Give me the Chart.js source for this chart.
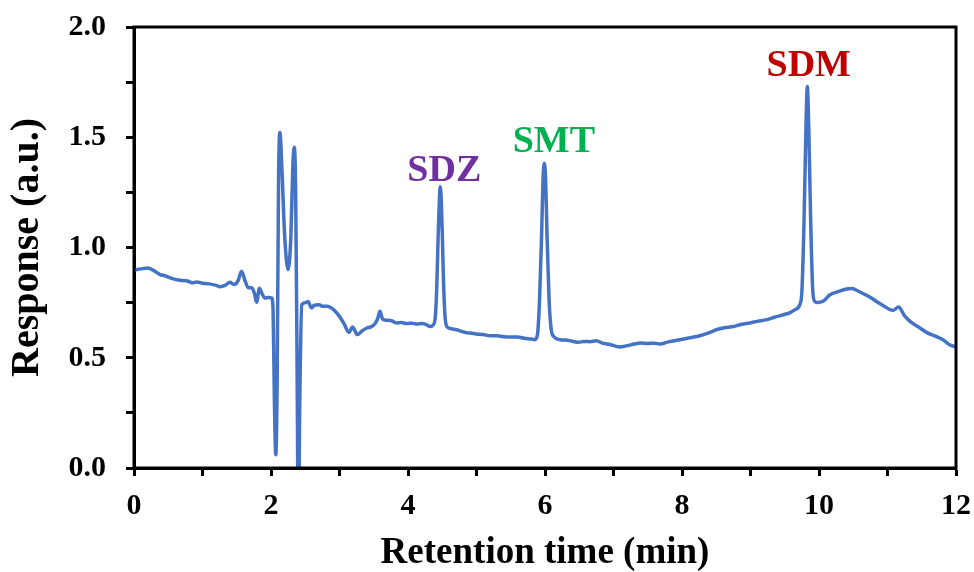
<!DOCTYPE html>
<html>
  <head>
    <title>Chromatogram</title>
    <script src="https://cdn.jsdelivr.net/npm/chart.js"></script>
    <style>
      body {
        margin: 0;
        background: #fff;
      }
      .wrap {
        width: 974px;
        height: 572px;
        position: relative;
      }
    </style>
  </head>
  <body>
    <div class="wrap"><canvas id="chrom"></canvas></div>

    <script>
      // retention time (min) and detector response (a.u.)
      const times = [
        0.00, 0.10, 0.20, 0.30, 0.38, 0.45, 0.55, 0.67, 0.78, 0.85, 0.92, 1.00, 1.10, 1.20, 1.26, 1.33,
        1.40, 1.46, 1.52, 1.57, 1.62, 1.67, 1.72, 1.76, 1.79, 1.83, 1.87, 1.91, 1.96, 2.01, 2.03, 2.05,
        2.07, 2.09, 2.11, 2.13, 2.16, 2.20, 2.25, 2.29, 2.32, 2.34, 2.36, 2.38, 2.40, 2.42, 2.45, 2.50,
        2.54, 2.59, 2.63, 2.70, 2.76, 2.82, 2.88, 2.96, 3.06, 3.14, 3.19, 3.26, 3.33, 3.40, 3.46, 3.52,
        3.56, 3.59, 3.63, 3.69, 3.76, 3.83, 3.90, 3.98, 4.06, 4.13, 4.20, 4.27, 4.32, 4.37, 4.40, 4.42,
        4.44, 4.46, 4.47, 4.48, 4.50, 4.52, 4.54, 4.57, 4.63, 4.71, 4.78, 4.85, 4.91, 5.00, 5.10, 5.20,
        5.30, 5.40, 5.50, 5.60, 5.70, 5.80, 5.85, 5.89, 5.92, 5.95, 5.97, 5.99, 6.01, 6.03, 6.06, 6.09,
        6.13, 6.22, 6.30, 6.40, 6.49, 6.57, 6.66, 6.75, 6.85, 6.95, 7.09, 7.20, 7.30, 7.39, 7.50, 7.60,
        7.68, 7.80, 7.97, 8.10, 8.26, 8.40, 8.50, 8.62, 8.75, 8.87, 8.99, 9.10, 9.24, 9.36, 9.48, 9.58,
        9.65, 9.72, 9.75, 9.78, 9.81, 9.83, 9.85, 9.88, 9.91, 9.94, 9.97, 10.06, 10.16, 10.28, 10.40, 10.48,
        10.55, 10.65, 10.74, 10.84, 10.94, 11.08, 11.16, 11.25, 11.33, 11.45, 11.57, 11.70, 11.81, 11.90, 12.00
      ];
      const response = [
        0.897, 0.903, 0.907, 0.893, 0.877, 0.872, 0.860, 0.851, 0.848, 0.840, 0.844, 0.838, 0.835, 0.828, 0.822, 0.828,
        0.842, 0.832, 0.850, 0.892, 0.850, 0.817, 0.818, 0.790, 0.752, 0.815, 0.790, 0.771, 0.773, 0.771, 0.720, 0.300,
        0.060, 0.400, 1.300, 1.521, 1.350, 1.050, 0.900, 1.050, 1.380, 1.455, 1.250, 0.500, -0.300, 0.300, 0.741, 0.749,
        0.755, 0.726, 0.737, 0.740, 0.733, 0.734, 0.726, 0.703, 0.658, 0.615, 0.640, 0.605, 0.622, 0.635, 0.640, 0.655,
        0.680, 0.711, 0.675, 0.670, 0.668, 0.658, 0.660, 0.655, 0.657, 0.653, 0.655, 0.650, 0.642, 0.650, 0.690, 0.820,
        1.050, 1.230, 1.276, 1.250, 1.070, 0.830, 0.690, 0.640, 0.632, 0.627, 0.620, 0.614, 0.612, 0.608, 0.605, 0.600,
        0.600, 0.595, 0.594, 0.594, 0.588, 0.585, 0.582, 0.605, 0.760, 1.050, 1.300, 1.382, 1.300, 1.050, 0.760, 0.630,
        0.595, 0.582, 0.580, 0.575, 0.570, 0.574, 0.573, 0.577, 0.565, 0.560, 0.549, 0.555, 0.562, 0.567, 0.565, 0.566,
        0.562, 0.572, 0.582, 0.590, 0.600, 0.614, 0.627, 0.636, 0.642, 0.652, 0.658, 0.665, 0.673, 0.685, 0.695, 0.705,
        0.718, 0.741, 0.800, 1.100, 1.550, 1.730, 1.550, 1.100, 0.800, 0.755, 0.751, 0.756, 0.786, 0.800, 0.812, 0.814,
        0.806, 0.790, 0.776, 0.755, 0.736, 0.715, 0.730, 0.690, 0.665, 0.640, 0.615, 0.598, 0.582, 0.560, 0.549
      ];

      // peak names and where their labels sit (data units)
      const peakNames = ["SDZ", "SMT", "SDM"];
      const peakLabelTimes = [4.53, 6.13, 9.85];
      const peakLabelResponses = [1.30, 1.432, 1.777];

      const peakColors = ["#7030A0", "#00B050", "#C00000"];
      const serif = "'Liberation Serif', 'Times New Roman', serif";

      const points = times.map((t, i) => ({ x: t, y: response[i] }));

      const frameAndLabels = {
        id: "frameAndLabels",
        afterDatasetsDraw(chart) {
          const { ctx, chartArea, scales } = chart;
          ctx.save();
          ctx.font = `bold 38px ${serif}`;
          ctx.textAlign = "center";
          ctx.textBaseline = "alphabetic";
          peakNames.forEach((name, i) => {
            ctx.fillStyle = peakColors[i];
            ctx.fillText(name, scales.x.getPixelForValue(peakLabelTimes[i]), scales.y.getPixelForValue(peakLabelResponses[i]));
          });
          ctx.strokeStyle = "#000";
          ctx.lineWidth = 3;
          ctx.strokeRect(chartArea.left, chartArea.top, chartArea.right - chartArea.left, chartArea.bottom - chartArea.top);
          ctx.restore();
        }
      };

      new Chart(document.getElementById("chrom"), {
        type: "line",
        data: {
          datasets: [{
            data: points,
            borderColor: "#4472C4",
            borderWidth: 3.5,
            pointRadius: 0,
            fill: false,
            cubicInterpolationMode: "monotone"
          }]
        },
        options: {
          responsive: true,
          maintainAspectRatio: false,
          animation: false,
          layout: { padding: { top: 27, right: 18, left: 0, bottom: 0 } },
          plugins: { legend: { display: false }, tooltip: { enabled: false } },
          scales: {
            x: {
              type: "linear",
              min: 0,
              max: 12,
              afterFit: (s) => { s.height = 104; s.paddingLeft = 0; s.paddingRight = 0; },
              border: { display: true, color: "#000", width: 3 },
              grid: { display: true, drawOnChartArea: false, drawTicks: true, tickLength: 8, tickWidth: 3, tickColor: "#000" },
              ticks: {
                stepSize: 1,
                autoSkip: false,
                maxRotation: 0,
                padding: 12,
                color: "#000",
                font: { family: serif, size: 30, weight: "bold" },
                callback: (v) => (v % 2 === 0 ? String(v) : "")
              },
              title: {
                display: true,
                text: "Retention time (min)",
                color: "#000",
                font: { family: serif, size: 37, weight: "bold", lineHeight: 1 },
                padding: { top: 0, bottom: 0 }
              }
            },
            y: {
              min: 0,
              max: 2,
              afterFit: (s) => { s.width = 134; s.paddingTop = 0; s.paddingBottom = 0; },
              border: { display: true, color: "#000", width: 3 },
              grid: { display: true, drawOnChartArea: false, drawTicks: true, tickLength: 8, tickWidth: 3, tickColor: "#000" },
              ticks: {
                stepSize: 0.25,
                autoSkip: false,
                padding: 20,
                color: "#000",
                font: { family: serif, size: 30, weight: "bold" },
                callback: (v) => (Math.abs(v * 2 - Math.round(v * 2)) < 1e-6 ? v.toFixed(1) : "")
              },
              title: {
                display: true,
                text: "Response (a.u.)",
                color: "#000",
                font: { family: serif, size: 40, weight: "bold", lineHeight: 1 },
                padding: { top: 8, bottom: 0 }
              }
            }
          }
        },
        plugins: [frameAndLabels]
      });
    </script>
  </body>
</html>
